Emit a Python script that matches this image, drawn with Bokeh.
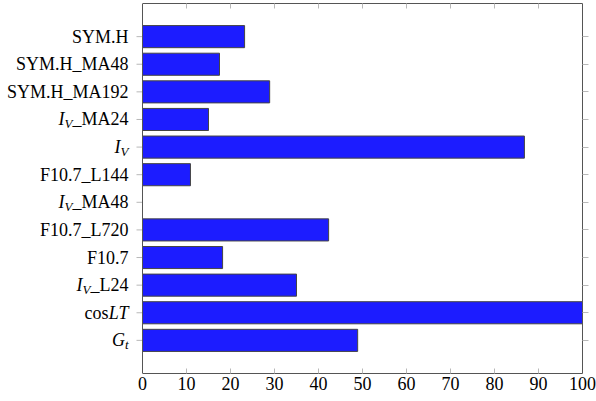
import math
from bokeh.plotting import figure
from bokeh.models import (ColumnDataSource, LinearAxis, FixedTicker, Range1d,
                          LabelSet, CustomJSTickFormatter, Span)
from bokeh.embed import file_html
from bokeh.resources import INLINE

# ---- data (top to bottom) ----
categories = ["SYM.H", "SYM.H_MA48", "SYM.H_MA192", "I_V_MA24", "I_V",
              "F10.7_L144", "I_V_MA48", "F10.7_L720", "F10.7", "I_V_L24",
              "cosLT", "G_t"]
values = [23.2, 17.5, 28.9, 15.0, 86.8, 10.9, 0.0, 42.3, 18.2, 35.0, 100.0, 48.9]
x_ticks = [0, 10, 20, 30, 40, 50, 60, 70, 80, 90, 100]

# label rendering pieces: (text, italic, subscript)
label_parts = [
    [("SYM.H", False, False)],
    [("SYM.H_MA48", False, False)],
    [("SYM.H_MA192", False, False)],
    [("I", True, False), ("V", True, True), ("_MA24", False, False)],
    [("I", True, False), ("V", True, True)],
    [("F10.7_L144", False, False)],
    [("I", True, False), ("V", True, True), ("_MA48", False, False)],
    [("F10.7_L720", False, False)],
    [("F10.7", False, False)],
    [("I", True, False), ("V", True, True), ("_L24", False, False)],
    [("cos", False, False), ("LT", True, False)],
    [("G", True, False), ("t", True, True)],
]

FONT = "Liberation Serif"
MAIN_PX = 18
SUB_PX = 13
GAP = 14
CAP_SHIFT = 6
SUB_DROP = 3
LABEL_AREA_PX = 142      # width reserved left of the value axis
PX_PER_UNIT = 4.4        # 440 px frame for 0..100

# Times-compatible advance widths (em)
W_UP = {'.': .25, '_': .5, 'A': .722, 'F': .556, 'H': .722, 'L': .611, 'M': .889,
        'S': .556, 'T': .611, 'Y': .722, 'V': .722, 'G': .722, 'I': .333,
        'c': .444, 'o': .5, 's': .389, 't': .278}
W_IT = {'I': .333, 'V': .611, 'L': .556, 'T': .556, 'G': .722, 't': .278}


def seg_width(text, italic, sub):
    size = SUB_PX if sub else MAIN_PX
    table = W_IT if italic else W_UP
    return sum(table.get(ch, 0.5) for ch in text) * size


n = len(categories)
ypos = [n - 1 - i for i in range(n)]

bar_src = ColumnDataSource(dict(y=ypos, right=values, name=categories))

lx, ly, lt, lxo, lyo, lstyle, lsize = [], [], [], [], [], [], []
for y, parts in zip(ypos, label_parts):
    acc = 0.0
    for text, italic, sub in reversed(parts):
        lx.append(0)
        ly.append(y)
        lt.append(text)
        lxo.append(-GAP - acc)
        lyo.append(-CAP_SHIFT - (SUB_DROP if sub else 0))
        lstyle.append("italic" if italic else "normal")
        lsize.append(f"{SUB_PX if sub else MAIN_PX}px")
        acc += seg_width(text, italic, sub)
lab_src = ColumnDataSource(dict(x=lx, y=ly, text=lt, xo=lxo, yo=lyo,
                                style=lstyle, size=lsize))

x_lo = -LABEL_AREA_PX / PX_PER_UNIT
p = figure(width=596, height=401, output_backend="svg", toolbar_location=None,
           x_range=Range1d(x_lo, 100), y_range=Range1d(-1.2, n - 1 + 1.2),
           min_border_left=0, min_border_right=14, min_border_top=3,
           min_border_bottom=28, x_axis_location=None, y_axis_location=None)
p.grid.visible = False
p.outline_line_color = None
p.background_fill_color = "white"
p.border_fill_color = "white"

AX = "#555555"
TK = "#b8b8b8"

p.hbar(y="y", right="right", left=0, height=0.8, source=bar_src,
       fill_color="#1c1cff", line_color="#444444", line_width=1)

# left box edge and outward category ticks
p.add_layout(Span(location=0, dimension="height", line_color=AX, line_width=1))
p.ray(x=[0] * n, y=ypos, length=6, angle=math.pi, length_units="screen",
      line_color=TK, line_width=1)

empty = CustomJSTickFormatter(code="return ''")

# bottom axis
xb = LinearAxis(ticker=FixedTicker(ticks=x_ticks), bounds=(0, 100))
xb.major_tick_in = 5
xb.major_tick_out = 0
xb.minor_tick_line_color = None
xb.axis_line_color = AX
xb.major_tick_line_color = TK
xb.major_label_text_font = FONT
xb.major_label_text_font_size = "18px"
xb.major_label_text_color = "black"
xb.major_label_standoff = 3
p.add_layout(xb, "below")

# top axis
xt = LinearAxis(ticker=FixedTicker(ticks=x_ticks), formatter=empty, bounds=(0, 100))
xt.major_tick_in = 5
xt.major_tick_out = 0
xt.minor_tick_line_color = None
xt.axis_line_color = AX
xt.major_tick_line_color = TK
xt.major_label_text_font_size = "0px"
xt.major_label_standoff = 0
p.add_layout(xt, "above")

# right axis
yr = LinearAxis(ticker=FixedTicker(ticks=ypos), formatter=empty)
yr.major_tick_in = 0
yr.major_tick_out = 6
yr.minor_tick_line_color = None
yr.axis_line_color = AX
yr.major_tick_line_color = TK
yr.major_label_text_font_size = "0px"
yr.major_label_standoff = 0
p.add_layout(yr, "right")

labels = LabelSet(x="x", y="y", text="text", x_offset="xo", y_offset="yo",
                  source=lab_src, text_align="right", text_baseline="alphabetic",
                  text_font=FONT, text_font_size="size", text_font_style="style",
                  text_color="black")
p.add_layout(labels)

open("out.html", "w").write(file_html(p, INLINE))
